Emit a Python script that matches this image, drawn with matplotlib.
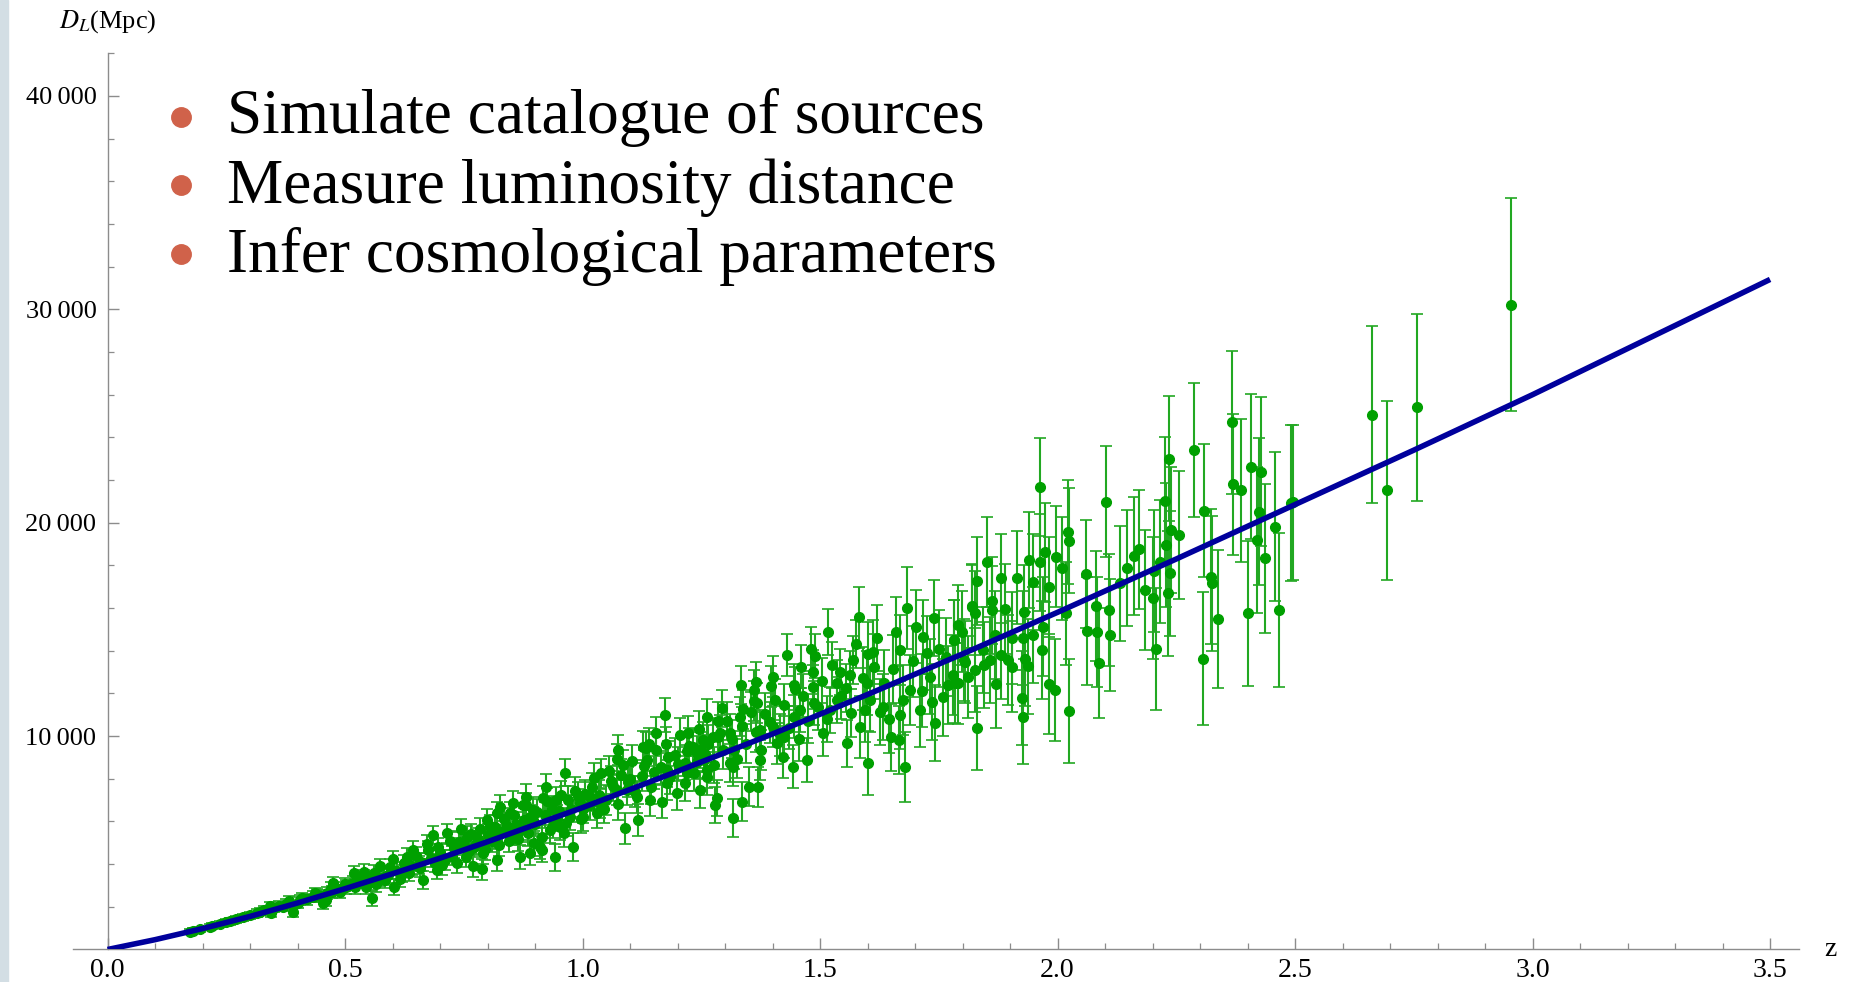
import matplotlib
matplotlib.use("Agg")
import matplotlib.pyplot as plt
from matplotlib.lines import Line2D
from matplotlib.patches import Rectangle
from matplotlib.ticker import FixedLocator

plt.rcParams['font.family'] = ['Liberation Serif', 'DejaVu Serif']
plt.rcParams['mathtext.fontset'] = 'stix'

# model curve D_L(z)
z_model = [0.0, 0.1, 0.2, 0.3, 0.4, 0.5, 0.6, 0.7, 0.8, 0.9, 1.0, 1.2, 1.4,
           1.6, 1.8, 2.0, 2.25, 2.5, 2.75, 3.0, 3.25, 3.5]
dl_model = [0, 460, 980, 1550, 2180, 2850, 3550, 4280, 5050, 5850, 6650, 8350,
            10100, 11950, 13850, 15800, 18300, 20850, 23400, 26000, 28700, 31400]

# simulated sources (z, D_L, sigma), read off the green points
low_z = [
    (0.173, 834, 110), (0.18, 880, 110), (0.195, 945, 120), (0.216, 1070, 130),
    (0.22, 1100, 130), (0.237, 1195, 140), (0.25, 1280, 150), (0.258, 1320, 150),
    (0.27, 1420, 160), (0.286, 1508, 170), (0.30, 1600, 175), (0.314, 1696, 180),
    (0.32, 1780, 185), (0.33, 1850, 190), (0.342, 2038, 200), (0.345, 1700, 200),
    (0.35, 1950, 205), (0.36, 2060, 210), (0.37, 2007, 220), (0.375, 2150, 220),
    (0.381, 2272, 230), (0.390, 1773, 230), (0.40, 2200, 240), (0.405, 2320, 240),
    (0.41, 2400, 245), (0.42, 2350, 250), (0.433, 2476, 260), (0.436, 2632, 260),
    (0.44, 2550, 265), (0.45, 2500, 270), (0.454, 2164, 280), (0.460, 2300, 280),
    (0.461, 2632, 280), (0.47, 2850, 290), (0.472, 2700, 290), (0.475, 3100, 300),
    (0.482, 2866, 300), (0.49, 2700, 305), (0.50, 3050, 310), (0.503, 2944, 320),
    (0.517, 3101, 330), (0.518, 3570, 330), (0.52, 2950, 335), (0.53, 3250, 335),
    (0.539, 3647, 340), (0.540, 3400, 340), (0.545, 2950, 340), (0.55, 3150, 345),
    (0.556, 2398, 350), (0.56, 3600, 350), (0.565, 3050, 355), (0.57, 3350, 355),
    (0.574, 3900, 360), (0.581, 3412, 370), (0.585, 3250, 370), (0.59, 3500, 375),
    (0.595, 3850, 375), (0.602, 4225, 380), (0.603, 2944, 380), (0.61, 3700, 390),
    (0.615, 3300, 390), (0.62, 3550, 395), (0.625, 4050, 395), (0.630, 4350, 400),
    (0.635, 3600, 400), (0.64, 3900, 405), (0.644, 4663, 410), (0.65, 4400, 410),
    (0.655, 3950, 415), (0.658, 3800, 420), (0.66, 4100, 420), (0.665, 3257, 420),
    (0.672, 4944, 430), (0.675, 4650, 430), (0.68, 4300, 435), (0.686, 5366, 440),
    (0.69, 4050, 440), (0.693, 3725, 440), (0.695, 4800, 445), (0.70, 4500, 450),
    (0.705, 3950, 450), (0.71, 4200, 455), (0.714, 5444, 460), (0.72, 5100, 460),
    (0.725, 4400, 460), (0.73, 4750, 465), (0.735, 4038, 470), (0.74, 5050, 470),
    (0.745, 5631, 480), (0.75, 4900, 480), (0.755, 4350, 480), (0.756, 5287, 490),
    (0.76, 4600, 490), (0.765, 5400, 490), (0.770, 3913, 500), (0.772, 4818, 500),
    (0.775, 4950, 495), (0.78, 5200, 505), (0.785, 5650, 500), (0.788, 3750, 510),
    (0.791, 4506, 510), (0.795, 4700, 510), (0.798, 6068, 520), (0.80, 5350, 520),
    (0.805, 5800, 520), (0.81, 5100, 525), (0.815, 5300, 525), (0.816, 5756, 530),
    (0.819, 4194, 530), (0.820, 6381, 530), (0.825, 4900, 530), (0.826, 6693, 540),
    (0.83, 5500, 540), (0.835, 6100, 540), (0.84, 5800, 545), (0.845, 5100, 545),
    (0.847, 6381, 550), (0.848, 5600, 550), (0.854, 6850, 560), (0.855, 6300, 555),
    (0.856, 5444, 560), (0.86, 5900, 565), (0.865, 5200, 565), (0.868, 4350, 570),
    (0.87, 5600, 570), (0.875, 6771, 570), (0.877, 6050, 570), (0.880, 6750, 580),
    (0.882, 7162, 580), (0.885, 5450, 580), (0.889, 4537, 580), (0.89, 6200, 585),
    (0.895, 6550, 585), (0.896, 6068, 590), (0.897, 4977, 590), (0.90, 5900, 595),
    (0.905, 6450, 595), (0.910, 4818, 600), (0.914, 4680, 600), (0.915, 5250, 600),
    (0.917, 7084, 600), (0.92, 6300, 605), (0.924, 7630, 610), (0.925, 6950, 610),
    (0.931, 5600, 615), (0.935, 6600, 615), (0.937, 5850, 615), (0.942, 4319, 620),
    (0.945, 7010, 620), (0.947, 6150, 620), (0.95, 6500, 625), (0.952, 5756, 630),
    (0.955, 7250, 630), (0.960, 5444, 630), (0.963, 8290, 640), (0.965, 5950, 635),
    (0.97, 7000, 640), (0.973, 6225, 640), (0.975, 6600, 640), (0.980, 4818, 650),
    (0.985, 7450, 650), (0.99, 7200, 655), (0.995, 6850, 660), (0.997, 6100, 660),
    (1.00, 6600, 665), (1.002, 6223, 665),
]

mid_z = [
    (1.005, 7300, 665), (1.015, 6750, 670), (1.016, 7162, 670), (1.02, 7600, 675),
    (1.025, 8050, 675), (1.030, 6381, 680), (1.035, 7250, 685), (1.037, 6851, 685),
    (1.038, 8257, 690), (1.045, 6600, 690), (1.05, 7000, 700), (1.055, 8350, 700),
    (1.06, 7900, 705), (1.065, 7650, 705), (1.072, 8911, 710), (1.073, 7474, 710),
    (1.074, 9349, 715), (1.075, 6800, 710), (1.08, 8200, 720), (1.085, 8650, 720),
    (1.089, 5678, 720), (1.093, 7474, 725), (1.095, 7850, 725), (1.10, 8000, 730),
    (1.105, 8850, 730), (1.11, 7400, 735), (1.115, 7150, 740), (1.117, 6068, 740),
    (1.125, 8150, 745), (1.128, 9503, 745), (1.13, 8600, 750), (1.134, 9427, 750),
    (1.135, 8900, 750), (1.139, 9630, 760), (1.142, 7006, 760), (1.145, 7600, 760),
    (1.15, 8300, 765), (1.154, 10130, 770), (1.155, 9350, 765), (1.165, 8550, 775),
    (1.167, 6928, 780), (1.173, 10989, 780), (1.175, 9650, 780), (1.177, 8411, 790),
    (1.178, 7788, 790), (1.18, 9000, 790), (1.185, 8100, 790), (1.195, 9100, 795),
    (1.198, 7318, 800), (1.20, 8700, 805), (1.205, 10050, 800), (1.215, 8750, 810),
    (1.216, 7786, 810), (1.219, 8257, 820), (1.22, 9300, 820), (1.221, 10131, 820),
    (1.225, 9550, 815), (1.233, 9503, 830), (1.235, 8250, 825), (1.24, 8800, 830),
    (1.241, 9193, 830), (1.245, 10350, 830), (1.247, 7474, 840), (1.248, 9349, 840),
    (1.254, 9817, 840), (1.255, 8880, 840), (1.257, 9150, 840), (1.261, 8099, 850),
    (1.262, 10910, 850), (1.263, 8411, 850), (1.265, 9650, 850), (1.275, 9972, 860),
    (1.277, 8650, 855), (1.279, 6771, 860), (1.283, 7100, 860), (1.285, 9950, 865),
    (1.286, 10723, 870), (1.289, 10130, 870), (1.293, 11301, 870), (1.295, 9350, 870),
    (1.305, 10700, 880), (1.310, 10130, 890), (1.311, 8725, 890), (1.315, 9850, 890),
    (1.316, 6147, 890), (1.317, 8567, 890), (1.318, 9349, 890), (1.325, 8950, 900),
    (1.331, 10910, 900), (1.333, 12395, 910), (1.335, 6928, 910), (1.336, 10450, 905),
    (1.338, 11248, 910), (1.345, 9650, 915), (1.351, 7630, 920), (1.355, 11150, 920),
    (1.360, 11660, 930), (1.361, 12160, 930), (1.365, 10200, 930), (1.366, 12551, 930),
    (1.367, 11537, 930), (1.370, 7630, 940), (1.373, 10286, 940), (1.374, 8880, 940),
    (1.375, 9350, 940), (1.385, 11050, 950), (1.395, 10650, 955), (1.397, 12337, 960),
    (1.401, 10442, 960), (1.402, 12784, 960), (1.405, 11700, 965), (1.409, 9662, 970),
    (1.415, 10050, 970), (1.423, 9036, 980), (1.424, 9972, 980), (1.425, 11450, 980),
    (1.430, 13800, 990), (1.435, 10400, 990), (1.444, 8567, 1000), (1.445, 10910, 1000),
    (1.446, 12400, 1000), (1.447, 12222, 1000), (1.455, 9850, 1005),
    (1.458, 11223, 1010), (1.459, 13252, 1010), (1.465, 11900, 1015),
    (1.472, 8880, 1020), (1.475, 10700, 1025), (1.480, 14067, 1030),
    (1.485, 13000, 1035), (1.486, 12315, 1040), (1.487, 11537, 1040),
    (1.489, 13754, 1040), (1.495, 11350, 1045), (1.505, 12600, 1055),
    (1.507, 10130, 1060), (1.515, 10800, 1065), (1.516, 14878, 1070),
    (1.521, 11223, 1070), (1.525, 13350, 1075), (1.535, 11692, 1090),
    (1.536, 12474, 1090), (1.541, 13003, 1100), (1.545, 11900, 1100),
    (1.555, 12250, 1110), (1.556, 9662, 1110), (1.563, 12863, 1120),
    (1.565, 11100, 1120), (1.570, 13566, 1130), (1.575, 14300, 1130),
    (1.583, 15567, 1420), (1.585, 10442, 1450), (1.59, 12700, 1480),
    (1.595, 11223, 1500), (1.598, 12474, 1500), (1.600, 8724, 1500),
    (1.601, 13847, 1500), (1.605, 11700, 1510), (1.612, 13940, 1520),
    (1.613, 13252, 1520), (1.62, 14600, 1530), (1.626, 11145, 1540),
    (1.633, 11378, 1550), (1.635, 12500, 1550), (1.645, 10800, 1570),
    (1.649, 9943, 1580), (1.654, 13128, 1590), (1.66, 14900, 1600),
    (1.666, 9817, 1610), (1.668, 10989, 1610), (1.669, 14035, 1620),
    (1.675, 11700, 1630), (1.679, 8567, 1640), (1.684, 16017, 1920),
    (1.689, 12160, 1660), (1.695, 13500, 1670), (1.703, 15127, 1700),
    (1.71, 11200, 1710), (1.715, 12129, 1720), (1.717, 14658, 1730),
    (1.725, 13900, 1740), (1.731, 12784, 1760), (1.735, 11600, 1760),
    (1.740, 15550, 1780), (1.743, 10630, 1780), (1.75, 14100, 1800),
    (1.759, 11816, 1810), (1.766, 13721, 1830), (1.77, 12400, 1840),
    (1.779, 12860, 1860), (1.781, 14503, 1860), (1.782, 14500, 1870),
    (1.784, 12470, 1870), (1.79, 15200, 1890), (1.791, 12474, 1890),
    (1.798, 14890, 1900), (1.802, 13566, 1910), (1.805, 13490, 1920),
    (1.812, 12780, 1930), (1.819, 16060, 1950), (1.820, 16097, 1950),
    (1.826, 15754, 1960), (1.827, 13100, 1960), (1.830, 10365, 1970),
    (1.831, 17280, 2060), (1.844, 14030, 2000), (1.846, 13330, 2000),
    (1.852, 18170, 2100), (1.857, 13570, 2030), (1.861, 15910, 2040),
    (1.863, 16340, 2040), (1.869, 14740, 2060), (1.870, 12440, 2060),
    (1.880, 17390, 2080), (1.881, 13800, 2080), (1.890, 15940, 2110),
    (1.895, 13570, 2120), (1.904, 13250, 2140), (1.905, 14580, 2150),
    (1.914, 17420, 2170), (1.925, 11770, 2200), (1.927, 14580, 2200),
    (1.928, 10910, 2200), (1.929, 15830, 2210), (1.931, 13600, 2210),
    (1.938, 13280, 2230), (1.939, 18250, 2230), (1.948, 14740, 2250),
    (1.949, 17210, 2260), (1.962, 18140, 2290), (1.964, 21660, 2300),
    (1.967, 14030, 2300), (1.969, 15130, 2310), (1.974, 18610, 2320),
    (1.982, 17000, 2340), (1.983, 12430, 2340), (1.994, 12160, 2370),
    (1.997, 18410, 2380),
]

high_z = [
    (2.009, 17860, 2410), (2.018, 15750, 2430), (2.021, 19580, 2440),
    (2.024, 19160, 2450), (2.025, 11180, 2450), (2.060, 17600, 2520),
    (2.063, 14940, 2530), (2.080, 16100, 2570), (2.082, 14890, 2570),
    (2.087, 13410, 2580), (2.102, 20990, 2620), (2.108, 15910, 2640),
    (2.110, 14740, 2640), (2.131, 17160, 2690), (2.146, 17860, 2720),
    (2.161, 18440, 2760), (2.171, 18750, 2790), (2.184, 16850, 2810),
    (2.200, 16460, 2850), (2.202, 17750, 2850), (2.207, 14100, 2860),
    (2.216, 18170, 2890), (2.226, 21020, 3000), (2.229, 18960, 2920),
    (2.233, 16690, 2930), (2.235, 23000, 2930), (2.237, 17630, 2940),
    (2.238, 19660, 2940), (2.255, 19420, 2980), (2.287, 23420, 3140),
    (2.307, 13630, 3100), (2.309, 20560, 3110), (2.322, 17470, 3150),
    (2.325, 17160, 3150), (2.338, 15490, 3220), (2.367, 24700, 3350),
    (2.370, 21800, 3300), (2.387, 21530, 3350), (2.400, 15750, 3400),
    (2.408, 22620, 3400), (2.419, 19190, 3420), (2.425, 20520, 3450),
    (2.428, 22390, 3500), (2.437, 18330, 3500), (2.458, 19810, 3500),
    (2.467, 15910, 3600), (2.491, 20910, 3650), (2.496, 20950, 3650),
    (2.662, 25060, 4150), (2.694, 21520, 4200), (2.756, 25400, 4380),
    (2.954, 30215, 5000),
]

sources = low_z + mid_z + high_z
z_obs = [s[0] for s in sources]
dl_obs = [s[1] for s in sources]
dl_err = [s[2] for s in sources]

bullets = ['Simulate catalogue of sources',
           'Measure luminosity distance',
           'Infer cosmological parameters']

x_ticks = [0.0, 0.5, 1.0, 1.5, 2.0, 2.5, 3.0, 3.5]
x_labels = ['0.0', '0.5', '1.0', '1.5', '2.0', '2.5', '3.0', '3.5']
y_ticks = [10000, 20000, 30000, 40000]
y_labels = ['10\u2009000', '20\u2009000', '30\u2009000', '40\u2009000']

# figure
fig = plt.figure(figsize=(18.54, 9.82), dpi=100)
ax = fig.add_axes([0.0393, 0.0331, 0.9308, 0.9127])

ax.errorbar(z_obs, dl_obs, yerr=dl_err, fmt='o', color='#00a000',
            ecolor='#22a822', elinewidth=1.5, capsize=4.5, capthick=1.2,
            markersize=7, zorder=2)
ax.plot(z_model, dl_model, color='#00009c', linewidth=4.0, zorder=3,
        solid_capstyle='butt')

ax.set_xlim(-0.073, 3.56)
ax.set_ylim(0, 42000)

# Mathematica-like axes crossing at the origin
for side in ['top', 'right']:
    ax.spines[side].set_visible(False)
ax.spines['left'].set_position(('data', 0))
for side in ['left', 'bottom']:
    ax.spines[side].set_color('#8c8c8c')
    ax.spines[side].set_linewidth(1.0)

ax.xaxis.set_major_locator(FixedLocator(x_ticks))
ax.set_xticklabels(x_labels)
ax.xaxis.set_minor_locator(FixedLocator([i / 10 for i in range(1, 36) if i % 5]))
ax.yaxis.set_major_locator(FixedLocator(y_ticks))
ax.set_yticklabels(y_labels)
ax.yaxis.set_minor_locator(FixedLocator([v for v in range(2000, 42001, 2000) if v % 10000]))

ax.tick_params(which='both', direction='in', color='#8c8c8c', labelsize=19)
ax.tick_params(which='major', length=8, width=1.0)
ax.tick_params(which='minor', length=4.5, width=0.9)
ax.tick_params(axis='x', pad=6, labelsize=20)
ax.tick_params(axis='y', pad=8)

# axis labels
fig.text(0.0583, 0.9776, r'$D_L$(Mpc)', fontsize=19, ha='center', va='center')
ax.annotate('z', xy=(1, 0), xycoords='axes fraction', xytext=(23, 0),
            textcoords='offset points', fontsize=20, ha='center', va='center')

# bullet list on the slide
bullet_y = [0.8809, 0.8116, 0.7413]
text_y = [0.8646, 0.7933, 0.7230]
for txt, by, ty in zip(bullets, bullet_y, text_y):
    fig.add_artist(Line2D([0.0976], [by], marker='o', markersize=14,
                          color='#d0624a', transform=fig.transFigure))
    fig.text(0.1227, ty, txt, fontsize=45.5, ha='left', va='baseline')

# light strip at the left edge of the slide
fig.patches.append(Rectangle((0, 0), 8 / 1854, 1, transform=fig.transFigure,
                             color='#d3dee4', zorder=0))

fig.savefig('out.png', dpi=100)
